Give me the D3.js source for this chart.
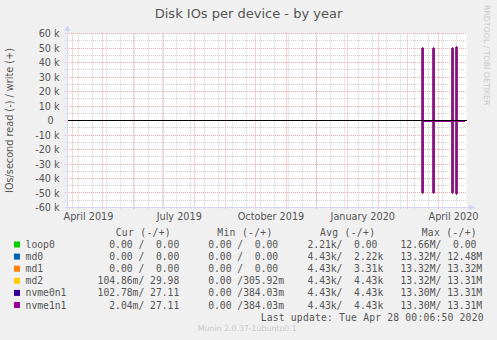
<!DOCTYPE html>
<html>
<head>
<meta charset="utf-8">
<script src="https://cdn.jsdelivr.net/npm/d3@7.9.0/dist/d3.min.js"></script>
<style>
  body { margin: 0; background: #f0f0f0; }
  svg { display: block; }
  text { font-family: 'DejaVu Sans', sans-serif; fill: #555; }
  .mono { font-family: 'DejaVu Sans Mono', monospace; white-space: pre; }
</style>
</head>
<body>
<svg id="chart" width="497" height="340"></svg>
<script>
/* =====================================================
   DISK IOs PER DEVICE - BY YEAR (munin / rrdtool look)
   ===================================================== */

/* --- Data --- */
const firstDay = '2019-03-26';   // left edge of the 400 day window
const lastDay = '2020-04-30';    // right edge
const dataEnd = '2020-04-28';    // last update

const devices = ['loop0', 'md0', 'md1', 'md2', 'nvme0n1', 'nvme1n1'];
const deviceColors = ['#00CC00', '#0066B3', '#FF8000', '#FFCC00', '#330099', '#990099'];

// days with the big bursts (one daily sample each)
const spikeDays = ['2020-03-16', '2020-03-27', '2020-04-15', '2020-04-19'];
const spikeWrite = [
  [0, 0, 0, 0],
  [50000, 50000, 50000, 50700],
  [50000, 50000, 50000, 50700],
  [50000, 50000, 50000, 50700],
  [50000, 50000, 50000, 50700],
  [50000, 50000, 50000, 50700]
];
const spikeRead = [
  [0, 0, 0, 0],
  [-50000, -50000, -50000, -50700],
  [-50000, -50000, -50000, -50700],
  [-50000, -50000, -50000, -50700],
  [-50000, -50000, -50000, -50700],
  [-50000, -50000, -50000, -50700]
];
// small steady read rate after the first burst
const tailRead = [0, 0, 0, -400, -600, -700];

/* --- Axis labels --- */
const yTicks = d3.range(-60000, 60001, 10000);
const yMinor = d3.range(-55000, 60000, 10000);
const monthLabels = ['April 2019', 'July 2019', 'October 2019', 'January 2020', 'April 2020'];
const monthLabelDays = ['2019-04-16', '2019-07-16', '2019-10-16', '2020-01-16', '2020-04-16'];

/* --- Legend table --- */
const curCol = ['  0.00 /  0.00', '  0.00 /  0.00', '  0.00 /  0.00', '104.86m/ 29.98', '102.78m/ 27.11', '  2.04m/ 27.11'];
const minCol = ['  0.00 /  0.00', '  0.00 /  0.00', '  0.00 /  0.00', '  0.00 /305.92m', '  0.00 /384.03m', '  0.00 /384.03m'];
const avgCol = ['  2.21k/  0.00', '  4.43k/  2.22k', '  4.43k/  3.31k', '  4.43k/  4.43k', '  4.43k/  4.43k', '  4.43k/  4.43k'];
const maxCol = [' 12.66M/  0.00', ' 13.32M/ 12.48M', ' 13.32M/ 13.32M', ' 13.32M/ 13.31M', ' 13.30M/ 13.31M', ' 13.30M/ 13.31M'];
const headers = ['Cur (-/+)', 'Min (-/+)', 'Avg (-/+)', 'Max (-/+)'];


/* --- Setup --- */
const parse = d3.timeParse('%Y-%m-%d');
const svg = d3.select('#chart');
const W = 497, H = 340;
const plot = { left: 67, right: 467, top: 33.5, bottom: 207.5 };
const crisp = v => Math.floor(v) + 0.5;

const x = d3.scaleTime()
  .domain([parse(firstDay), parse(lastDay)])
  .range([plot.left, plot.right]);

const y = d3.scaleLinear()
  .domain([-60000, 60000])
  .range([plot.bottom, plot.top]);

svg.append('rect').attr('width', W).attr('height', H).attr('fill', '#f0f0f0');
svg.append('rect')
  .attr('x', plot.left).attr('y', plot.top - 0.5)
  .attr('width', plot.right - plot.left).attr('height', plot.bottom - plot.top + 0.5)
  .attr('fill', '#fff');


/* --- Grid --- */
const grid = svg.append('g');
const minorColor = '#cfcfcf', majorColor = '#f2a6a6';

// vertical minor: every other sunday
const weeks = d3.timeWeek.range(x.domain()[0], x.domain()[1]).filter((_, i) => i % 2 === 1);
grid.selectAll('.vmin').data(weeks).enter().append('line')
  .attr('x1', d => crisp(x(d))).attr('x2', d => crisp(x(d)))
  .attr('y1', plot.top).attr('y2', plot.bottom + 2)
  .attr('stroke', minorColor).attr('stroke-dasharray', '1,1');

grid.selectAll('.hmin').data(yMinor).enter().append('line')
  .attr('x1', plot.left - 2).attr('x2', plot.right)
  .attr('y1', d => crisp(y(d))).attr('y2', d => crisp(y(d)))
  .attr('stroke', minorColor).attr('stroke-dasharray', '1,1');

// major: month starts and every 10k
const months = d3.timeMonth.range(x.domain()[0], x.domain()[1]);
grid.selectAll('.vmaj').data(months).enter().append('line')
  .attr('x1', d => crisp(x(d))).attr('x2', d => crisp(x(d)))
  .attr('y1', plot.top).attr('y2', plot.bottom + 2)
  .attr('stroke', majorColor).attr('stroke-dasharray', '1,1');

grid.selectAll('.hmaj').data(yTicks).enter().append('line')
  .attr('x1', plot.left - 2).attr('x2', plot.right)
  .attr('y1', d => crisp(y(d))).attr('y2', d => crisp(y(d)))
  .attr('stroke', majorColor).attr('stroke-dasharray', '1,1');


/* --- Series: step lines, read drawn negative, write positive --- */
function stepPoints(peaks, tail) {
  const pts = [[parse(firstDay), 0]];
  spikeDays.forEach((d, i) => {
    const day = parse(d);
    pts.push([day, peaks[i]]);
    pts.push([d3.timeDay.offset(day, 1), tail]);
  });
  pts.push([parse(dataEnd), tail]);
  return pts;
}

const line = d3.line()
  .x(d => x(d[0]))
  .y(d => y(d[1]))
  .curve(d3.curveStepAfter);

const series = svg.append('g').attr('fill', 'none').attr('stroke-width', 1);
devices.forEach((name, i) => {
  series.append('path')
    .attr('d', line(stepPoints(spikeRead[i], tailRead[i])))
    .attr('stroke', deviceColors[i]);
  series.append('path')
    .attr('d', line(stepPoints(spikeWrite[i], 0)))
    .attr('stroke', deviceColors[i]);
});

// zero rule
svg.append('line')
  .attr('x1', plot.left).attr('x2', plot.right)
  .attr('y1', crisp(y(0))).attr('y2', crisp(y(0)))
  .attr('stroke', '#000');


/* --- Axes --- */
const axisColor = '#cfd6f8';
svg.append('line')
  .attr('x1', plot.left + 0.5).attr('x2', plot.left + 0.5)
  .attr('y1', plot.bottom + 2).attr('y2', 28)
  .attr('stroke', axisColor);
svg.append('path')
  .attr('d', `M${plot.left - 2.5},31 L${plot.left + 3.5},31 L${plot.left + 0.5},25 Z`)
  .attr('fill', axisColor);
svg.append('line')
  .attr('x1', plot.left - 2).attr('x2', 470)
  .attr('y1', plot.bottom).attr('y2', plot.bottom)
  .attr('stroke', axisColor);
svg.append('path')
  .attr('d', `M469,${plot.bottom - 3} L469,${plot.bottom + 3} L475,${plot.bottom} Z`)
  .attr('fill', axisColor);

const yAxis = svg.append('g')
  .attr('transform', `translate(${plot.left},0)`)
  .call(d3.axisLeft(y)
    .tickValues(yTicks)
    .tickSize(0)
    .tickPadding(7.3)
    .tickFormat(d => d === 0 ? '0\u00a0\u00a0' : `${d / 1000} k`));
yAxis.select('.domain').remove();
yAxis.selectAll('text')
  .attr('fill', '#555').style('font-size', '9.7px')
  .style('font-family', "'DejaVu Sans', sans-serif");

const xAxis = svg.append('g')
  .attr('transform', `translate(0,${plot.bottom})`)
  .call(d3.axisBottom(x)
    .tickValues(monthLabelDays.map(parse))
    .tickSize(0)
    .tickFormat((_, i) => monthLabels[i]));
xAxis.select('.domain').remove();
xAxis.selectAll('text')
  .attr('y', 12.8).attr('dy', null)
  .attr('fill', '#555').style('font-size', '9.7px')
  .style('font-family', "'DejaVu Sans', sans-serif");


/* --- Titles --- */
svg.append('text')
  .attr('x', 248.5).attr('y', 17.7)
  .attr('text-anchor', 'middle')
  .style('font-size', '13px')
  .text('Disk IOs per device - by year');

svg.append('text')
  .attr('transform', `translate(13.3,${y(0)}) rotate(-90)`)
  .attr('text-anchor', 'middle')
  .style('font-size', '9.7px')
  .text('IOs/second read (-) / write (+)');

svg.append('text')
  .attr('transform', 'translate(484.4,5) rotate(90)')
  .style('fill', '#c8c8c8')
  .style('font-size', '7.8px')
  .text('RRDTOOL / TOBI OETIKER');


/* --- Legend --- */
const legend = svg.append('g').attr('class', 'legend');
const headerX = [115.7, 217.3, 320, 421.7];
const colX = [97.6, 196.5, 295.8, 394.7];
const cols = [curCol, minCol, avgCol, maxCol];
const rowY = i => 248 + i * 12.1;

headers.forEach((h, i) => {
  legend.append('text')
    .attr('class', 'mono')
    .attr('x', headerX[i]).attr('y', 236.2)
    .attr('textLength', 55).attr('lengthAdjust', 'spacing')
    .style('font-size', '9.7px')
    .text(h);
});

devices.forEach((name, i) => {
  legend.append('rect')
    .attr('x', 14).attr('y', rowY(i) - 6.5)
    .attr('width', 6).attr('height', 6)
    .attr('fill', deviceColors[i]);
  legend.append('text')
    .attr('class', 'mono')
    .attr('x', 25.6).attr('y', rowY(i))
    .style('font-size', '9.7px')
    .text(name);
  cols.forEach((col, c) => {
    legend.append('text')
      .attr('class', 'mono')
      .attr('x', colX[c]).attr('y', rowY(i))
      .style('font-size', '9.7px')
      .text(col[i]);
  });
});

legend.append('text')
  .attr('class', 'mono')
  .attr('x', 260.7).attr('y', 320.6)
  .attr('textLength', 222.8).attr('lengthAdjust', 'spacing')
  .style('font-size', '9.7px')
  .text('Last update: Tue Apr 28 00:06:50 2020');

svg.append('text')
  .attr('x', 247.3).attr('y', 331)
  .attr('text-anchor', 'middle')
  .style('fill', '#c8c8c8')
  .style('font-size', '7.8px')
  .text('Munin 2.0.37-1ubuntu0.1');
</script>
</body>
</html>
